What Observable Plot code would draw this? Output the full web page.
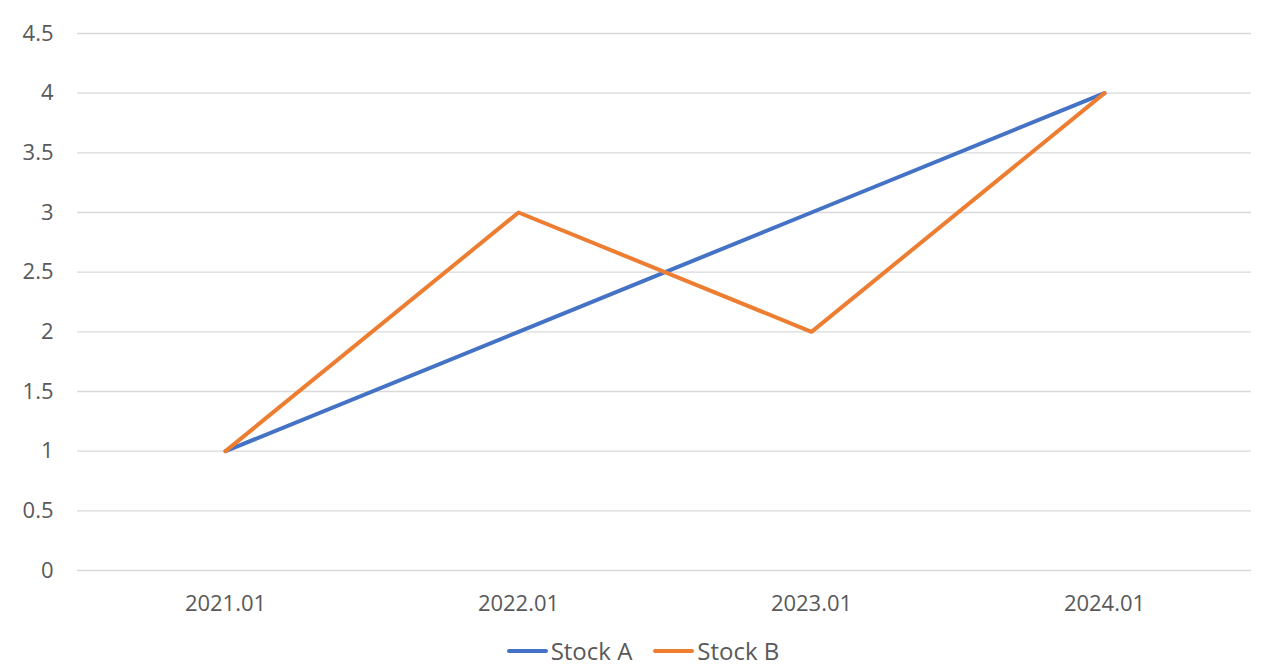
<!DOCTYPE html>
<html>
<head>
<meta charset="utf-8">
<script src="https://cdn.jsdelivr.net/npm/d3@7"></script>
<script src="https://cdn.jsdelivr.net/npm/@observablehq/plot@0.6"></script>
<style>
  html, body { margin: 0; padding: 0; background: #fff; }
  body { width: 1265px; height: 671px; overflow: hidden; font-family: "Open Sans", "Noto Sans", sans-serif; }
  #legend { display: flex; justify-content: center; align-items: center; gap: 21px; height: 41px; color: #595959; font-size: 24px; padding-left: 21px; }
  .item { display: flex; align-items: center; }
  .sw { width: 41px; height: 4px; border-radius: 2px; margin-right: 3px; }
</style>
</head>
<body>
<div id="chart"></div>
<div id="legend"></div>
<script>
const periods = ["2021.01", "2022.01", "2023.01", "2024.01"];
const seriesNames = ["Stock A", "Stock B"];
const stockA = [1, 2, 3, 4];
const stockB = [1, 3, 2, 4];
const colors = ["#4472C4", "#ED7D31"];
const yTicks = [0, 0.5, 1, 1.5, 2, 2.5, 3, 3.5, 4, 4.5];

const data = [];
[stockA, stockB].forEach((vals, i) => {
  vals.forEach((v, j) => data.push({period: periods[j], value: v, series: seriesNames[i]}));
});

const chart = Plot.plot({
  width: 1265,
  height: 630,
  marginTop: 33,
  marginBottom: 60,
  marginLeft: 77,
  marginRight: 14,
  style: {fontFamily: '"Open Sans", "Noto Sans", sans-serif', fontSize: "22px", color: "#595959", background: "#fff"},
  x: {type: "point", domain: periods, padding: 0.5, label: null},
  y: {domain: [0, 4.5], label: null},
  color: {domain: seriesNames, range: colors},
  marks: [
    Plot.ruleY(yTicks, {stroke: "#D9D9D9", strokeWidth: 1.3}),
    Plot.axisY(yTicks, {tickSize: 0, tickPadding: 24, label: null, tickFormat: d => String(d), fill: "#595959", fontSize: 22}),
    Plot.axisX({tickSize: 0, tickPadding: 25, label: null, fill: "#595959", fontSize: 22}),
    Plot.line(data, {x: "period", y: "value", stroke: "series", z: "series", strokeWidth: 4, strokeLinecap: "round", strokeLinejoin: "round"})
  ]
});
document.getElementById("chart").appendChild(chart);

const legend = document.getElementById("legend");
seriesNames.forEach((name, i) => {
  const item = document.createElement("div");
  item.className = "item";
  const sw = document.createElement("div");
  sw.className = "sw";
  sw.style.background = colors[i];
  const label = document.createElement("span");
  label.textContent = name;
  item.appendChild(sw);
  item.appendChild(label);
  legend.appendChild(item);
});
</script>
</body>
</html>
